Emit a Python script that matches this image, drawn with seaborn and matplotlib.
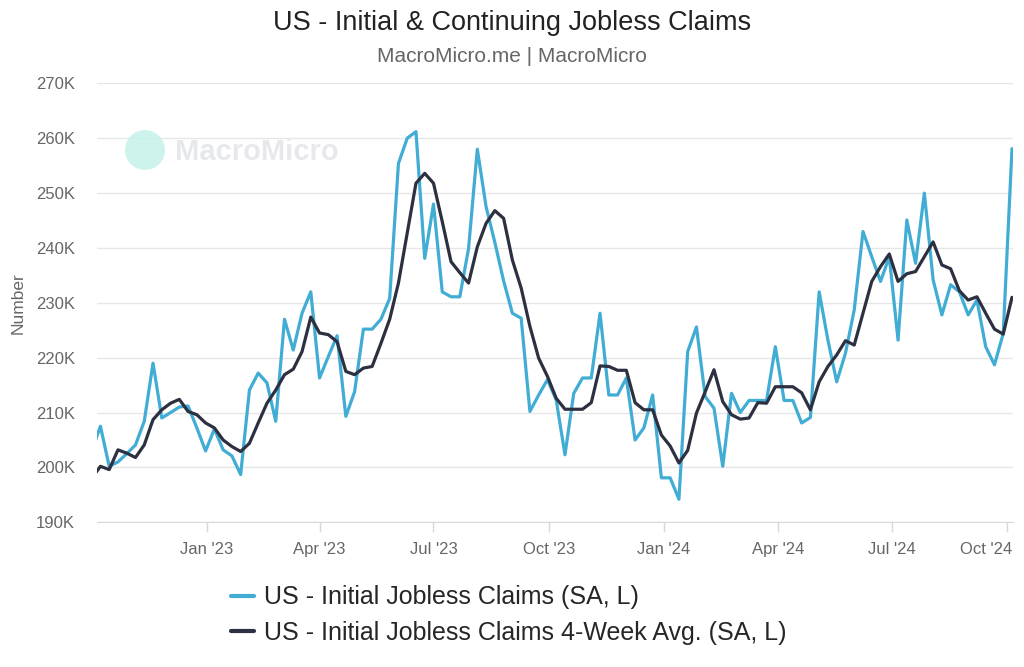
from matplotlib import pyplot as plt
from matplotlib.patches import Circle
import matplotlib.dates as mdates
import matplotlib.transforms as mtransforms
import pandas as pd
import seaborn as sns

# weekly, week ending Saturday, Oct 1 2022 .. Oct 5 2024 (thousands)
weeks = pd.date_range('2022-10-01', '2024-10-05', freq='W-SAT')

initial_claims = [
    203, 207.5, 200.2, 201, 202.5, 204.1, 208.4, 219, 209, 210, 211, 211.2, 207.2, 203,
    207, 203.2, 202.1, 198.7, 214.1, 217.2, 215.4, 208.4, 227, 221.4, 228.1, 232, 216.3,
    220.2, 224, 209.3, 213.8, 225.2, 225.2, 227, 230.8, 255.4, 260, 261.2, 238.1, 248,
    232, 231.1, 231.1, 239.9, 258, 247.5, 241, 234, 228.1, 227.2, 210.2, 213.2, 216,
    212.3, 202.3, 213.5, 216.3, 216.3, 228.1, 213.2, 213.2, 216.3, 205, 207.2, 213.2,
    198.1, 198.1, 194.2, 221.1, 225.6, 212.9, 210.8, 200.2, 213.5, 210, 212.2, 212.2,
    212.2, 222, 212.2, 212.2, 208.1, 209.1, 232, 223.2, 215.6, 220.8, 228.7, 243, 238.4,
    233.9, 238.4, 223.2, 245.1, 237.2, 250, 234.2, 227.8, 233.3, 232, 227.8, 230.5, 222,
    218.7, 224.4, 258.1,
]

four_week_avg = [
    198, 200.2, 199.6, 203.2, 202.6, 201.8, 204.1, 208.7, 210.5, 211.7, 212.4, 210.2,
    209.6, 208.1, 207.2, 205, 203.8, 202.9, 204.4, 208.1, 211.7, 214.1, 216.9, 217.9,
    221.1, 227.4, 224.5, 224.2, 222.9, 217.5, 216.9, 218.1, 218.4, 222.6, 227, 233.6,
    242.7, 251.8, 253.6, 251.8, 244.8, 237.5, 235.5, 233.6, 240.2, 244.5, 246.8, 245.4,
    237.8, 232.7, 225.7, 219.9, 216.6, 212.6, 210.6, 210.6, 210.6, 211.8, 218.5, 218.4,
    217.7, 217.7, 211.8, 210.5, 210.5, 205.9, 203.9, 200.8, 203.1, 209.9, 213.8, 217.8,
    212, 209.6, 208.8, 209, 211.8, 211.7, 214.7, 214.7, 214.7, 213.6, 210.5, 215.6,
    218.4, 220.5, 223.1, 222.3, 228.1, 233.9, 236.6, 238.9, 233.9, 235.3, 235.7, 238.4,
    241.1, 236.9, 236.2, 232.2, 230.5, 231.1, 228.1, 225.2, 224.3, 231,
]

series_names = ['US - Initial Jobless Claims (SA, L)',
                'US - Initial Jobless Claims 4-Week Avg. (SA, L)']
colors = ['#41acd4', '#2c3040']
y_ticks = list(range(190000, 270001, 10000))


def build_df():
    df = pd.DataFrame({'date': list(weeks) * 2,
                       'value': [v * 1000 for v in initial_claims + four_week_avg],
                       'series': [series_names[0]] * len(weeks) + [series_names[1]] * len(weeks)})
    return df


if __name__ == "__main__":
    sns.set_style('white')
    plt.rcParams['font.family'] = ['Liberation Sans', 'DejaVu Sans']

    df = build_df()
    fig = plt.figure(figsize=(10.24, 6.67), dpi=100)
    ax = fig.add_axes([0.0944, 0.217, 0.8951, 0.658])

    sns.lineplot(ax=ax, data=df, x='date', y='value', hue='series',
                 palette=colors, linewidth=2.3, legend=False)

    ax.set_xlim(pd.Timestamp('2022-10-05'), pd.Timestamp('2024-10-06'))
    ax.set_ylim(190000, 270000)
    ax.set_yticks(y_ticks)
    ax.set_yticklabels([f'{int(v / 1000)}K' for v in y_ticks])
    ax.grid(axis='y', color='#e6e6e6', linewidth=1)
    ax.grid(axis='x', visible=False)

    ax.xaxis.set_major_locator(mdates.MonthLocator(bymonth=[1, 4, 7, 10]))
    ax.xaxis.set_major_formatter(mdates.DateFormatter("%b '%y"))
    ax.tick_params(axis='x', bottom=True, length=7, width=1, color='#d8d8d8',
                   labelsize=12, labelcolor='#666666', pad=7)
    ax.tick_params(axis='y', left=False, labelsize=12, labelcolor='#666666', pad=12)

    for pos in ['right', 'top', 'left']:
        ax.spines[pos].set_visible(False)
    ax.spines['bottom'].set_color('#d8d8d8')

    ax.set_xlabel('')
    ax.set_ylabel('Number', fontsize=12.5, color='#666666')
    ax.yaxis.set_label_coords(-0.078, 0.5)

    fig.canvas.draw()
    last = ax.get_xticklabels()[-1]
    last.set_horizontalalignment('right')
    last.set_transform(last.get_transform() + mtransforms.ScaledTranslation(5 / 100, 0, fig.dpi_scale_trans))

    fig.text(0.5, 0.966, 'US - Initial & Continuing Jobless Claims', ha='center', va='center',
             fontsize=19.5, color='#222222')
    fig.text(0.5, 0.915, 'MacroMicro.me | MacroMicro', ha='center', va='center',
             fontsize=15, color='#666666')

    # watermark
    fig.patches.append(Circle((1.45, 5.17), 0.2, transform=fig.dpi_scale_trans,
                              facecolor='#c9f2ea', edgecolor='none', alpha=0.9, zorder=0))
    fig.text(175 / 1024, 1 - 152 / 667, 'MacroMicro', ha='left', va='center', fontsize=21,
             color='#e6e8ec', fontweight='bold', zorder=0)

    handles = [plt.Line2D([], [], color=c, linewidth=3) for c in colors]
    fig.legend(handles, series_names, loc='upper center', bbox_to_anchor=(0.497, 0.156),
               frameon=False, fontsize=18, handlelength=0.9, handletextpad=0.4,
               labelspacing=0.45, ncol=1)

    fig.savefig('out.png', dpi=100)
